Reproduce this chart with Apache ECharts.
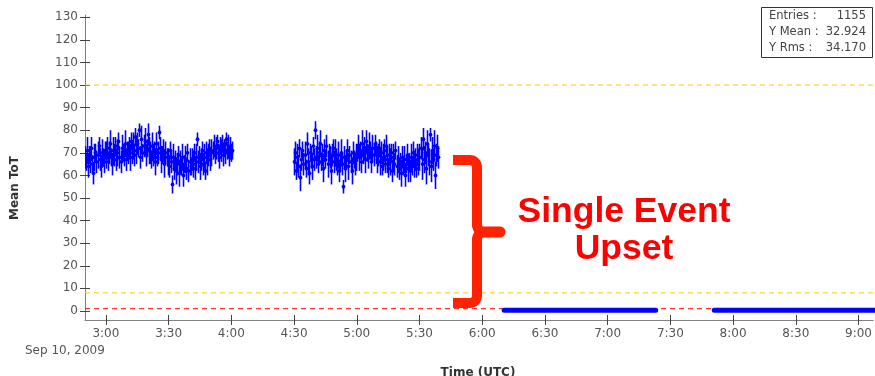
<!DOCTYPE html>
<html><head><meta charset="utf-8">
<script src="https://cdn.jsdelivr.net/npm/echarts@6/dist/echarts.min.js"></script>
<style>html,body{margin:0;padding:0;background:#fff}#c{width:875px;height:376px}</style>
</head><body><div id="c"></div>
<script>
// ---- data (time in minutes after midnight UTC, Sep 10, 2009) ----
const xTickValues = [180,210,240,270,300,330,360,390,420,450,480,510,540];
const xTickLabels = ['3:00','3:30','4:00','4:30','5:00','5:30','6:00','6:30','7:00','7:30','8:00','8:30','9:00'];
const yTickValues = [0,10,20,30,40,50,60,70,80,90,100,110,120,130];

const seg1Start = 170, seg2Start = 270, sampleStep = 0.5;
const seg1Values = [
68,66,71,64,69,67,72,65,61,68,70,66,69,73,67,64,70,68,66,71,
69,72,66,70,74,68,65,71,69,73,67,70,75,68,66,72,70,69,74,67,71,70,
72,68,75,70,73,69,77,71,74,72,80,68,76,70,73,75,69,72,78,71,
70,67,73,69,71,66,74,68,70,79,72,67,69,71,65,70,68,66,64,71,
66,56,68,63,67,62,65,69,61,66,64,68,60,65,67,63,70,62,66,64,
67,65,70,63,68,76,66,69,64,67,71,65,68,62,70,66,69,72,67,70,
71,73,69,72,75,70,68,73,71,74,69,72,70,76,71,73,68,72,70,71];
const seg1Errors = [
5,4,6,5,4,6,5,4,5,6,4,5,6,4,5,5,6,4,5,4,
6,5,4,5,6,4,5,6,5,4,5,6,4,5,5,6,4,5,6,5,4,5,
5,6,4,5,6,5,4,6,5,4,3,5,6,4,5,6,5,4,5,6,
5,4,6,5,4,6,5,4,5,3,5,6,4,5,6,5,4,6,5,4,
5,4,6,5,4,6,5,4,6,5,4,6,5,4,6,5,4,5,6,4,
5,6,4,5,6,3,5,4,6,5,4,5,6,4,5,6,5,4,5,6,
4,5,4,5,3,4,5,4,5,4,5,4,5,3,4,5,4,5,4,4];
const seg2Values = [
66,70,62,68,64,72,59,67,71,65,69,63,74,66,61,70,68,64,73,67,
80,68,72,65,70,74,66,69,63,71,67,73,65,70,68,62,69,72,66,70,
67,64,69,62,66,70,65,55,68,63,67,71,64,69,66,62,70,67,65,68,
70,73,68,71,66,74,69,72,67,75,70,68,73,71,66,72,69,74,70,67,
69,72,66,70,64,68,71,65,73,67,63,69,66,70,62,68,65,71,64,67,
63,66,61,68,64,67,60,65,69,63,66,62,68,64,70,65,67,63,69,66,
68,72,65,76,67,70,63,74,69,66,78,64,71,67,73,60,69,72,68];
const seg2Errors = [
6,5,4,6,5,4,6,5,4,5,6,4,5,6,5,4,5,6,4,5,
4,5,6,4,5,6,4,5,6,5,4,5,6,4,5,6,5,4,5,6,
5,4,6,5,4,6,5,3,5,6,4,5,6,4,5,6,5,4,5,6,
4,5,6,4,5,6,4,5,6,5,4,5,6,4,5,6,5,4,5,6,
5,4,6,5,4,6,5,4,5,6,4,5,6,4,5,6,5,4,5,6,
5,4,6,5,4,6,5,4,5,6,4,5,6,4,5,6,5,4,5,6,
6,5,7,5,6,5,7,6,5,6,3,7,6,5,7,6,5,6,5];
const zeroSeg1 = [[370.5,0.3],[380,0.3],[390,0.3],[400,0.3],[410,0.3],[420,0.3],[430,0.3],[443,0.3]];
const zeroSeg2 = [[471,0.3],[480,0.3],[490,0.3],[500,0.3],[510,0.3],[520,0.3],[530,0.3],[540,0.3],[550,0.3]];
const xRange = [170, 547];
const upperLimit = 100, lowerLimit = 8, redLimit = 1;
const stats = [['Entries :', '1155'], ['Y Mean :', '32.924'], ['Y Rms :', '34.170']];

// ---- build ----
function build(start, vals, errs){ return vals.map((v,i)=>[start + i*sampleStep, v, errs[i]]); }
const seg1 = build(seg1Start, seg1Values, seg1Errors);
const seg2 = build(seg2Start, seg2Values, seg2Errors);
const hLine = v => xRange.map(x => [x, v]);

function renderErr(params, api){
  const x = api.value(0), y = api.value(1), e = api.value(2);
  const t = api.coord([x, y+e]), b = api.coord([x, y-e]), c = api.coord([x, y]);
  const px = Math.round(c[0]) + 0.5;
  return {type:'group', children:[
    {type:'line', shape:{x1:px, y1:t[1], x2:px, y2:b[1]}, style:{stroke:'#0000ff', lineWidth:1.6}},
    {type:'circle', shape:{cx:px, cy:c[1], r:1.9}, style:{fill:'#0000ff'}}
  ]};
}
function limitSeries(v, color){
  return {type:'line', data:hLine(v), symbol:'none', showSymbol:false, silent:true, z:2, clip:true,
    lineStyle:{color:color, width:1, type:[5,4]}, itemStyle:{color:color}};
}

const font = 'DejaVu Sans';
const chart = echarts.init(document.getElementById('c'), null, {renderer:'canvas'});
const tickLabelMap = {}; xTickValues.forEach((v,i)=>tickLabelMap[v]=xTickLabels[i]);
const axisCommonX = {type:'value', min:xRange[0], max:xRange[1], gridIndex:0, position:'bottom', splitLine:{show:false}};
const axisCommonY = {type:'value', min:-4, max:131, gridIndex:0, position:'left', splitLine:{show:false}};

chart.setOption({
  animation:false,
  backgroundColor:'#fff',
  grid:{left:85, top:15, right:0, bottom:56, containLabel:false},
  xAxis:[
    Object.assign({}, axisCommonX, {
      axisLine:{show:true, onZero:false, lineStyle:{color:'#808080', width:1}},
      axisTick:{show:true, inside:false, length:5, customValues:xTickValues, lineStyle:{color:'#444'}},
      axisLabel:{show:true, customValues:xTickValues, margin:8, color:'#555', fontFamily:font, fontSize:12,
        formatter:v=>tickLabelMap[v] || ''}
    }),
    Object.assign({}, axisCommonX, {
      axisLine:{show:false, onZero:false}, axisTick:{show:true, inside:true, length:5, customValues:xTickValues, lineStyle:{color:'#444'}},
      axisLabel:{show:false}
    })
  ],
  yAxis:[
    Object.assign({}, axisCommonY, {
      axisLine:{show:true, onZero:false, lineStyle:{color:'#808080', width:1}},
      axisTick:{show:true, inside:false, length:5, customValues:yTickValues, lineStyle:{color:'#444'}},
      axisLabel:{show:true, customValues:yTickValues, margin:7, color:'#555', fontFamily:font, fontSize:12}
    }),
    Object.assign({}, axisCommonY, {
      axisLine:{show:false, onZero:false}, axisTick:{show:true, inside:true, length:5, customValues:yTickValues, lineStyle:{color:'#444'}},
      axisLabel:{show:false}
    })
  ],
  series:[
    limitSeries(upperLimit, '#ffc800'),
    limitSeries(lowerLimit, '#ffc800'),
    limitSeries(redLimit, '#ff0000'),
    {type:'custom', renderItem:renderErr, data:seg1, z:5, clip:true},
    {type:'custom', renderItem:renderErr, data:seg2, z:5, clip:true},
    {type:'line', data:zeroSeg1, showSymbol:false, symbol:'none', z:6, clip:true,
     lineStyle:{color:'#0000ff', width:5, cap:'round'}},
    {type:'line', data:zeroSeg2, showSymbol:false, symbol:'none', z:6, clip:true,
     lineStyle:{color:'#0000ff', width:5, cap:'round'}}
  ],
  graphic:[
    {type:'text', x:15, y:188, rotation:Math.PI/2, z:10,
     style:{text:'Mean ToT', font:'bold 12px "DejaVu Sans"', fill:'#333', align:'center', verticalAlign:'middle'}},
    {type:'text', x:25, y:351, z:10,
     style:{text:'Sep 10, 2009', font:'12px "DejaVu Sans"', fill:'#555', align:'left', verticalAlign:'middle'}},
    {type:'text', x:478, y:367, z:10,
     style:{text:'Time (UTC)', font:'bold 12px "DejaVu Sans"', fill:'#333', align:'center', verticalAlign:'top'}},
    // stats box
    {type:'rect', x:761.5, y:7.5, z:20, shape:{width:111, height:50}, style:{fill:'#fff', stroke:'#333', lineWidth:1}},
    ...stats.flatMap((r,i)=>[
      {type:'text', x:769, y:16.5+16*i, z:21, style:{text:r[0], font:'11.5px "DejaVu Sans"', fill:'#444', align:'left', verticalAlign:'middle'}},
      {type:'text', x:866, y:16.5+16*i, z:21, style:{text:r[1], font:'11.5px "DejaVu Sans"', fill:'#444', align:'right', verticalAlign:'middle'}}
    ]),
    // annotation brace
    {type:'line', z:15, shape:{x1:453, y1:160, x2:470, y2:160}, style:{stroke:'#ff2200', lineWidth:10, lineCap:'butt'}},
    {type:'bezierCurve', z:15, shape:{x1:469, y1:160, cpx1:477, cpy1:160, x2:477, y2:168}, style:{fill:null, stroke:'#ff2200', lineWidth:10, lineCap:'round'}},
    {type:'line', z:15, shape:{x1:477, y1:168, x2:477, y2:225}, style:{stroke:'#ff2200', lineWidth:10, lineCap:'round'}},
    {type:'bezierCurve', z:15, shape:{x1:477, y1:224, cpx1:477, cpy1:232, x2:486, y2:232}, style:{fill:null, stroke:'#ff2200', lineWidth:10, lineCap:'round'}},
    {type:'line', z:15, shape:{x1:485, y1:232, x2:500, y2:232}, style:{stroke:'#ff2200', lineWidth:11, lineCap:'round'}},
    {type:'bezierCurve', z:15, shape:{x1:486, y1:232, cpx1:477, cpy1:232, x2:477, y2:240}, style:{fill:null, stroke:'#ff2200', lineWidth:10, lineCap:'round'}},
    {type:'line', z:15, shape:{x1:477, y1:240, x2:477, y2:295}, style:{stroke:'#ff2200', lineWidth:10, lineCap:'round'}},
    {type:'bezierCurve', z:15, shape:{x1:477, y1:295, cpx1:477, cpy1:303, x2:469, y2:303}, style:{fill:null, stroke:'#ff2200', lineWidth:10, lineCap:'round'}},
    {type:'line', z:15, shape:{x1:470, y1:303, x2:453, y2:303}, style:{stroke:'#ff2200', lineWidth:10, lineCap:'butt'}},
    {type:'text', x:624, y:212, z:15, style:{text:'Single Event', font:'bold 35.5px "Liberation Sans"', fill:'#ff0000', align:'center', verticalAlign:'middle'}},
    {type:'text', x:624, y:249, z:15, style:{text:'Upset', font:'bold 35.5px "Liberation Sans"', fill:'#ff0000', align:'center', verticalAlign:'middle'}}
  ]
});
</script></body></html>
